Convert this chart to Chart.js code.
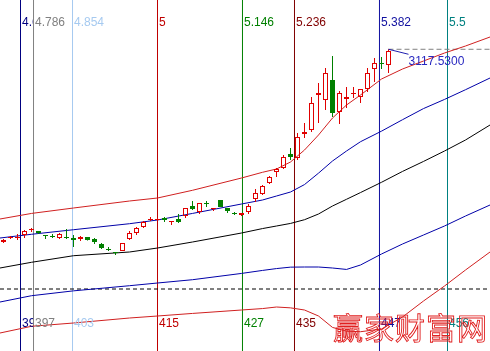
<!DOCTYPE html>
<html>
<head>
<meta charset="utf-8">
<script src="https://cdn.jsdelivr.net/npm/chart.js@4.4.0/dist/chart.umd.min.js"></script>
<style>
  html, body { margin: 0; padding: 0; background: #fff; }
  #wrap { width: 490px; height: 351px; }
</style>
</head>
<body>
<div id="wrap"><canvas id="kline" width="490" height="351"></canvas></div>
<script>
"use strict";

// candles (bar 0 = first bar on screen)
let opens = [2443, 2457, 2457, 2467.5, 2485, 2481.5, 2467.5, 2464, 2457, 2460.5,
  2457, 2453.5, 2460.5, 2453.5, 2436, 2418.5, 2408, 2411.5, 2453.5, 2474.5,
  2495.5, 2520, 2520, 2527, 2513, 2523.5, 2534, 2569, 2548, 2579.5,
  2558.5, 2590, 2562, 2544.5, 2537.5, 2548, 2593.5, 2611, 2649.5, 2688,
  2702, 2751, 2737, 2821, 2835, 2957.5, 2940, 3010, 2898, 2943.5,
  2961, 2950.5, 2978.5, 3048.5, 3069.5, 3062.5];
let closes = [2450, 2460.5, 2460.5, 2481.5, 2488.5, 2474.5, 2464, 2460.5, 2471, 2457,
  2450, 2460.5, 2450, 2443, 2422, 2415, 2404.5, 2439.5, 2474.5, 2492,
  2513, 2523.5, 2523.5, 2520, 2516.5, 2513, 2562, 2558.5, 2579.5, 2576,
  2562, 2565.5, 2551.5, 2541, 2544.5, 2569, 2614.5, 2639, 2670.5, 2698.5,
  2740.5, 2740.5, 2810.5, 2828, 2929.5, 2964.5, 3034.5, 2894.5, 2964.5, 2950.5,
  2964.5, 2978.5, 3034.5, 3069.5, 3066, 3111.5];
let highs = [2453.5, 2464, 2471, 2485, 2492, 2481.5, 2467.5, 2471, 2474.5, 2488.5,
  2467.5, 2464, 2460.5, 2457, 2439.5, 2425.5, 2408, 2439.5, 2481.5, 2495.5,
  2516.5, 2530.5, 2527, 2530.5, 2516.5, 2541, 2562, 2586.5, 2579.5, 2586.5,
  2562, 2590, 2562, 2548, 2544.5, 2576, 2628.5, 2642.5, 2674, 2702,
  2747.5, 2772, 2824.5, 2859.5, 2950.5, 2999.5, 3052, 3094, 2971.5, 2985.5,
  2985.5, 2978.5, 3052, 3087, 3090.5, 3117.53];
let lows = [2439.5, 2453.5, 2450, 2457, 2478, 2471, 2453.5, 2457, 2453.5, 2453.5,
  2425.5, 2446.5, 2448, 2436, 2418.5, 2411.5, 2397.5, 2411.5, 2450, 2467.5,
  2492, 2516.5, 2516.5, 2513, 2502.5, 2509.5, 2527, 2555, 2541, 2565.5,
  2551.5, 2565.5, 2544.5, 2537.5, 2534, 2541, 2583, 2607.5, 2646, 2670.5,
  2698.5, 2730, 2730, 2807, 2828, 2859.5, 2905, 2880.5, 2856, 2912,
  2947, 2929.5, 2968, 3003, 3048.5, 3034.5];

// fib time lines: position in bars, ratio on top, bar number at bottom
let vlinePos = [2.43, 4.29, 9.86, 22, 34.14, 41.57, 53.71, 63.43];
let vlineTop = ['4.618', '4.786', '4.854', '5', '5.146', '5.236', '5.382', '5.5'];
let vlineBottom = ['395', '397', '403', '415', '427', '435', '447', '456'];
let vlineColors = ['#000080', '#808080', '#a6caf0', '#c00000', '#008000', '#800000', '#1010a0', '#008080'];

// band lines, sampled at these bar positions
let bandX = [-0.5, 4, 10, 18, 22, 27, 34, 37, 39, 41, 43, 45, 47, 49, 51, 54, 57, 60, 63, 66, 69.5];
let upperRed = [2523.5, 2543, 2562, 2586.5, 2597, 2624, 2667, 2687, 2698.5, 2723, 2765,
  2817.5, 2877, 2922.5, 2957.5, 3013.5, 3048.5, 3076.5, 3104.5, 3129, 3160.5];
let upperBlue = [2457, 2470, 2486, 2507, 2520, 2543, 2576, 2590, 2604, 2618, 2644,
  2684, 2726.5, 2761.5, 2794, 2831, 2871, 2910, 2942, 2976, 3017];
let midBlack = [2352, 2372, 2395, 2408, 2422, 2443, 2474.5, 2490, 2499, 2508, 2521,
  2541, 2569, 2592.5, 2616, 2652, 2690, 2725, 2761.5, 2800, 2852.5];
let lowerBlue = [2233, 2255, 2272, 2290, 2299.5, 2311, 2333, 2343.5, 2350, 2355, 2355.5,
  2355.5, 2352, 2347, 2362.5, 2401, 2436, 2467.5, 2499, 2534, 2572.5];
let lowerRed = [2124.5, 2148, 2159.5, 2177, 2184, 2193, 2205, 2210, 2215.5, 2212.5, 2205,
  2184, 2144, 2131, 2129, 2138.5, 2180.5, 2236.5, 2289, 2345, 2408];

let dashLevel = 2278.5;
let lastHigh = 3117.53;

let upColor = '#e00000';
let downColor = '#008000';

// ð candle helpers
let isUp = (i) => closes[i] >= opens[i];
let isDoji = (i) => Math.abs(closes[i] - opens[i]) < 4;
let candleColor = (i) => isUp(i) ? upColor : downColor;

let bodyData = opens.map((o, i) => ({ x: i, y: [o, closes[i]] }));
let upperWick = opens.map((o, i) => ({ x: i, y: [Math.max(o, closes[i]), highs[i]] }));
let lowerWick = opens.map((o, i) => ({ x: i, y: [lows[i], Math.min(o, closes[i])] }));

function wickSet(data) {
  return {
    type: 'bar',
    data: data,
    backgroundColor: opens.map((o, i) => candleColor(i)),
    barThickness: 1,
    grouped: false,
    inflateAmount: 0,
    order: 1
  };
}

function bandSet(values, color) {
  return {
    type: 'line',
    data: bandX.map((x, i) => ({ x: x, y: values[i] })),
    borderColor: color,
    borderWidth: 1,
    pointRadius: 0,
    tension: 0,
    order: 5
  };
}

let datasets = [
  {
    type: 'bar',
    data: bodyData,
    backgroundColor: opens.map((o, i) => (isUp(i) && !isDoji(i)) ? 'rgba(0,0,0,0)' : candleColor(i)),
    borderColor: opens.map((o, i) => candleColor(i)),
    borderWidth: 1,
    borderSkipped: false,
    barThickness: 5,
    grouped: false,
    inflateAmount: 0,
    order: 0
  },
  wickSet(upperWick),
  wickSet(lowerWick),
  bandSet(upperRed, '#d02020'),
  bandSet(upperBlue, '#0000a8'),
  bandSet(midBlack, '#000000'),
  bandSet(lowerBlue, '#0000a8'),
  bandSet(lowerRed, '#d02020'),
  {
    type: 'line',
    data: [{ x: -0.5, y: dashLevel }, { x: 69.5, y: dashLevel }],
    borderColor: '#000000',
    borderWidth: 1,
    borderDash: [4, 3],
    pointRadius: 0,
    order: 6
  },
  {
    type: 'line',
    data: [{ x: 55, y: lastHigh }, { x: 69.5, y: lastHigh }],
    borderColor: '#808080',
    borderWidth: 1,
    borderDash: [5, 3],
    pointRadius: 0,
    order: 6
  }
];

// vertical lines
vlinePos.forEach((pos, i) => {
  datasets.push({
    type: 'line',
    data: [{ x: pos, y: 2061.5 }, { x: pos, y: 3290 }],
    borderColor: vlineColors[i],
    borderWidth: 1,
    pointRadius: 0,
    order: 10
  });
});

// ð texts on top of the chart
const overlay = {
  id: 'overlay',
  afterDatasetsDraw(chart) {
    const ctx = chart.ctx;
    const xs = chart.scales.x;
    const ys = chart.scales.y;
    ctx.save();
    ctx.font = '12px "Liberation Sans"';
    vlinePos.forEach((pos, i) => {
      let x = Math.floor(xs.getPixelForValue(pos));
      let next = i < vlinePos.length - 1 ? Math.floor(xs.getPixelForValue(vlinePos[i + 1])) : chart.width;
      ctx.save();
      ctx.beginPath();
      ctx.rect(x + 1, 0, next - x - 1, chart.height);
      ctx.clip();
      ctx.fillStyle = vlineColors[i];
      ctx.fillText(vlineTop[i], x + 2, 26);
      ctx.fillText(vlineBottom[i], x + 2, 327);
      ctx.restore();
    });

    // last high marker
    let hx = xs.getPixelForValue(55);
    let hy = ys.getPixelForValue(lastHigh);
    ctx.strokeStyle = '#2020b0';
    ctx.lineWidth = 1;
    ctx.beginPath();
    ctx.moveTo(hx, hy);
    ctx.lineTo(hx + 20, hy + 5);
    ctx.stroke();
    ctx.fillStyle = '#2828c0';
    ctx.fillText(lastHigh.toFixed(4), hx + 20, hy + 16);

    // watermark
    ctx.font = '30px "Noto Sans CJK SC"';
    ctx.strokeStyle = '#e02020';
    ctx.lineWidth = 0.9;
    let mark = '赢家财富网';
    for (let k = 0; k < mark.length; k++) {
      ctx.strokeText(mark[k], 333 + k * 31, 339);
    }
    ctx.restore();
  }
};

let kline = new Chart(document.getElementById('kline'), {
  type: 'bar',
  data: { datasets: datasets },
  options: {
    responsive: false,
    animation: false,
    devicePixelRatio: 1,
    layout: { padding: 0 },
    plugins: { legend: { display: false }, tooltip: { enabled: false } },
    scales: {
      x: { type: 'linear', min: -0.5, max: 69.5, offset: false, display: false },
      y: { type: 'linear', min: 2061.5, max: 3290, display: false }
    }
  },
  plugins: [overlay]
});
</script>
</body>
</html>
